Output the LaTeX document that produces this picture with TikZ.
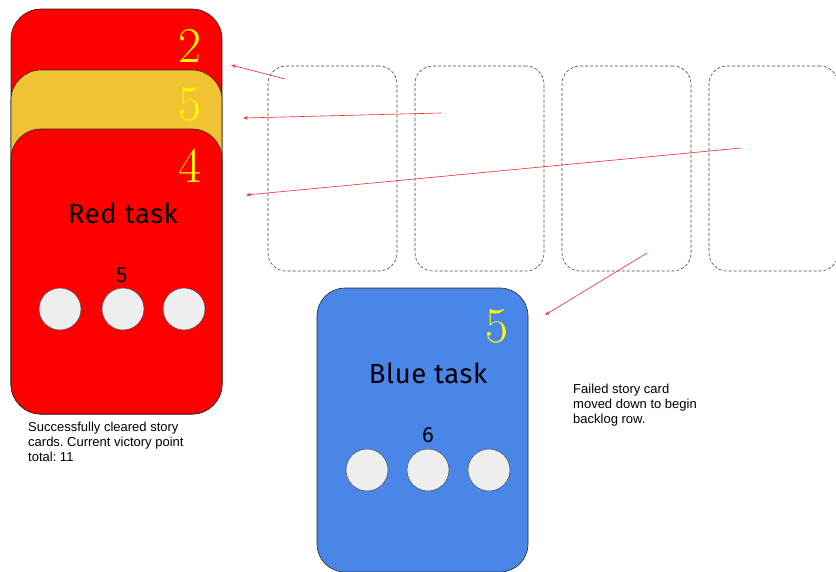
\documentclass[tikz,border=0pt]{standalone}
\usepackage{fontspec}
\usetikzlibrary{arrows.meta}
\newfontfamily\cardfont[LetterSpace=2]{Fira Sans}
\newfontfamily\notefont{Liberation Sans}
\definecolor{cardred}{HTML}{FF0000}
\definecolor{cardgold}{HTML}{F1C232}
\definecolor{cardblue}{HTML}{4A86E8}
\definecolor{pointyellow}{HTML}{FFFF00}
\definecolor{tokengray}{HTML}{EEEEEE}
\frenchspacing
\begin{document}
\begin{tikzpicture}[x=1pt,y=-1pt,
  card/.style={draw=black!85, line width=0.6pt, rounded corners=30pt,
    minimum width=211pt, inner sep=0pt},
  slot/.style={draw=black!75, dash pattern=on 3pt off 2pt, line width=0.6pt,
    rounded corners=18pt, minimum width=129pt, minimum height=205pt, inner sep=0pt},
  token/.style={circle, draw=black!70, line width=0.5pt, fill=tokengray,
    minimum size=42pt, inner sep=0pt},
  points/.style={anchor=base, inner sep=0pt, text=pointyellow,
    font=\fontsize{50}{50}\selectfont},
  title/.style={anchor=base, inner sep=0pt, font=\cardfont\fontsize{27.5}{27.5}\selectfont},
  effort/.style={anchor=base, inner sep=0pt, font=\cardfont\fontsize{22}{22}\selectfont},
  note/.style={anchor=north west, inner sep=0pt, align=left,
    font=\notefont\fontsize{13}{15}\selectfont},
  move/.style={draw=cardred!85, line width=0.6pt,
    -{Stealth[length=5pt,width=3.5pt]}}
]
\useasboundingbox (0,0) rectangle (836,571);
\clip (0,0) rectangle (836,571);

% stack of cleared cards
\node[card, fill=cardred, minimum height=405pt] (back) at (116.5,211.5) {};
\node[points] (backpts) at (190,62) {2};
\node[card, fill=cardgold, minimum height=344pt] (mid) at (116.5,242) {};
\node[points] (midpts) at (190,120) {5};
\node[card, fill=cardred, minimum height=285pt] (front) at (116.5,271.5) {};
\node[points] (frontpts) at (190,182) {4};
\node[title] (redtitle) at (123,223) {Red task};
\node[effort] (redeffort) at (122,282) {5};
\node[token] (r1) at (60,309) {};
\node[token] (r2) at (123,309) {};
\node[token] (r3) at (184,309) {};

\node[note] (leftnote) at (28,422)
  {Successfully cleared story\\cards. Current victory point\\total: 11};

% empty slots of the sprint row
\node[slot] (s1) at (332.5,168.5) {};
\node[slot] (s2) at (479.5,168.5) {};
\node[slot] (s3) at (626.5,168.5) {};
\node[slot] (s4) at (773.5,168.5) {};

% failed card
\node[card, fill=cardblue, rounded corners=28pt, minimum height=284pt]
  (blue) at (422.5,430) {};
\node[points] (bluepts) at (497,342) {5};
\node[title] (bluetitle) at (428,383) {Blue task};
\node[effort] (blueeffort) at (428,442) {6};
\node[token] (b1) at (367,470) {};
\node[token] (b2) at (428,470) {};
\node[token] (b3) at (489,470) {};

\node[note] (rightnote) at (573,384)
  {Failed story card\\moved down to begin\\backlog row.};

% card movements
\coordinate (m1s) at (285,79);  \coordinate (m1e) at (231,65);
\coordinate (m2s) at (441,113); \coordinate (m2e) at (243,118);
\coordinate (m3s) at (741,148); \coordinate (m3e) at (246,195);
\coordinate (m4s) at (647,253); \coordinate (m4e) at (545,315);
\draw[move] (m1s) -- (m1e);
\draw[move] (m2s) -- (m2e);
\draw[move] (m3s) -- (m3e);
\draw[move] (m4s) -- (m4e);
\end{tikzpicture}
\end{document}
